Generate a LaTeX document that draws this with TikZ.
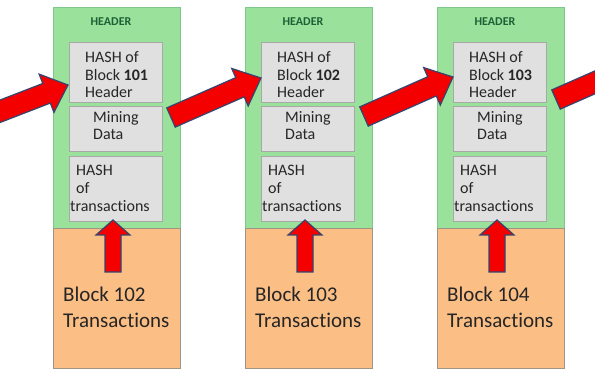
\documentclass[tikz,border=0pt]{standalone}
\usepackage{fontspec}
\setmainfont{Carlito}[Ligatures=NoCommon]
\usetikzlibrary{calc}
\definecolor{gfill}{HTML}{9AE29C}
\definecolor{gdraw}{HTML}{80C88A}
\definecolor{ofill}{HTML}{FBBE84}
\definecolor{odraw}{HTML}{A09484}
\definecolor{bfill}{HTML}{E0E0E0}
\definecolor{bdraw}{HTML}{A8A8A8}
\definecolor{hdr}{HTML}{1F5F35}
\definecolor{arrred}{HTML}{F40000}
\definecolor{arredge}{HTML}{35456E}
\definecolor{txt}{HTML}{262626}
\tikzset{
  greenbox/.style={draw=gdraw, fill=gfill, line width=1pt, minimum width=127pt, minimum height=221pt, anchor=north west, inner sep=0pt, outer sep=0pt},
  orangebox/.style={draw=odraw, fill=ofill, line width=1pt, minimum width=127pt, minimum height=140pt, anchor=north west, inner sep=0pt, outer sep=0pt},
  greybox/.style={draw=bdraw, fill=bfill, line width=1pt, minimum width=93pt, anchor=north west, inner sep=0pt, outer sep=0pt},
  hdrtext/.style={font=\bfseries\fontsize{12}{14}\selectfont, text=hdr, inner sep=0pt, anchor=base},
  smalltext/.style={font=\fontsize{16}{18}\selectfont, text=txt, inner sep=0pt, anchor=base west},
  bigtext/.style={font=\fontsize{21}{25}\selectfont, text=txt, inner sep=0pt, anchor=base west},
  barrow/.style={fill=arrred, draw=arredge, line width=1.2pt, line join=miter},
}
% tail, tip, shaft half width, head half width, head length
\newcommand\blockarrow[5]{%
  \coordinate (hbX) at ($(#2)!#5!(#1)$);
  \filldraw[barrow] ($(#1)!#3!90:(#2)$) -- ($(hbX)!#3!90:(#2)$) -- ($(hbX)!#4!90:(#2)$)
    -- (#2) -- ($(hbX)!#4!-90:(#2)$) -- ($(hbX)!#3!-90:(#2)$) -- ($(#1)!#3!-90:(#2)$) -- cycle;
}
\begin{document}
\begin{tikzpicture}[x=1pt,y=-1pt]
\useasboundingbox (0,0) rectangle (595,371);
\clip (0,0) rectangle (595,371);
\fill[white] (0,0) rectangle (595,371);
\foreach \i/\L/\n/\m in {1/53/101/102, 2/245/102/103, 3/437/103/104}{
  \node[greenbox] (g\i) at (\L,8) {};
  \node[orangebox] (o\i) at (\L,229) {};
  \node[greybox, minimum height=60pt] (a\i) at (\L+16,43) {};
  \node[greybox, minimum height=45pt] (m\i) at (\L+16,107) {};
  \node[greybox, minimum height=65pt] (t\i) at (\L+16,157) {};
  \node[hdrtext] (hd\i) at (\L+58,26) {HEADER};
  \node[smalltext] (a\i l1) at (\L+32,63) {HASH of};
  \node[smalltext] (a\i l2) at (\L+32,80.5) {Block \textbf{\n}};
  \node[smalltext] (a\i l3) at (\L+32,98) {Header};
  \node[smalltext] (m\i l1) at (\L+40,123) {Mining};
  \node[smalltext] (m\i l2) at (\L+40,140) {Data};
  \node[smalltext] (t\i l1) at (\L+23,176) {HASH};
  \node[smalltext] (t\i l2) at (\L+23,194) {of};
  \node[smalltext] (t\i l3) at (\L+17,212) {transactions};
  \node[bigtext] (o\i l1) at (\L+10,302) {Block \m};
  \node[bigtext] (o\i l2) at (\L+10,328) {Transactions};
  \coordinate (up\i tip) at ($(t\i.south)+(-2.5,-2)$);
  \coordinate (up\i tail) at ($(t\i.south)+(-2.5,50)$);
  \blockarrow{up\i tail}{up\i tip}{8pt}{17pt}{15pt}
}
% chain arrows
\coordinate (c1tail) at (-20,119);
\coordinate (c1tip) at ($(a1.west)+(-1,12)$);
\coordinate (c2tail) at ($(g1.east)+(-9,-1)$);
\coordinate (c2tip) at ($(a2.west)+(0,5)$);
\coordinate (c3tail) at ($(g2.east)+(-8,-2)$);
\coordinate (c3tip) at ($(a3.west)+(0,4)$);
\coordinate (c4tail) at ($(g3.east)+(-8,-19)$);
\coordinate (c4tip) at ($(c4tail)+(91,-40)$);
\blockarrow{c1tail}{c1tip}{10.5pt}{20.5pt}{23pt}
\blockarrow{c2tail}{c2tip}{10.5pt}{20.5pt}{23pt}
\blockarrow{c3tail}{c3tip}{10.5pt}{20.5pt}{23pt}
\blockarrow{c4tail}{c4tip}{10.5pt}{20.5pt}{23pt}
\end{tikzpicture}
\end{document}
